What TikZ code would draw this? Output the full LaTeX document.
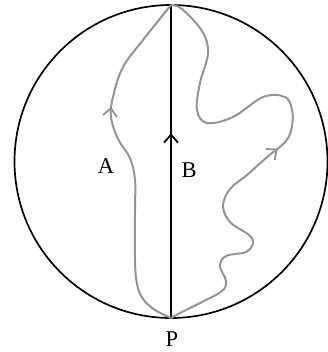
\documentclass[tikz,border=0pt]{standalone}
\usepackage{fontspec}
\setmainfont{Liberation Serif}
\usetikzlibrary{arrows.meta,decorations.markings}
\tikzset{
  rim/.style={draw=black,line width=1.7pt},
  chord/.style={draw=black,line width=1.7pt},
  wiggle/.style={draw=black!42,line width=2pt},
  lbl/.style={font=\fontsize{22.5}{22.5}\selectfont,inner sep=0pt},
  midarrow/.style args={#1 with #2}{postaction={decorate,decoration={markings,
      mark=at position #1 with {\arrow[#2]{Straight Barb[length=8pt,width=14pt,line width=1.8pt]}}}}}
}
\begin{document}
\begin{tikzpicture}[x=1pt,y=-1pt]
\useasboundingbox (0,0) rectangle (327,352);
\coordinate (O) at (171,161.5);
\coordinate (top) at (171,5);
\coordinate (bot) at (171,318);
\draw[rim] (O) circle [radius=156.5pt];
\draw[chord,midarrow={0.59 with black}] (bot) -- (top);
% curve A
\draw[wiggle,midarrow={0.66 with black!42}] plot[smooth,tension=0.6] coordinates {
  (bot) (155,310) (143,299) (137,284) (135,260) (135,209) (135,180) (130,158)
  (118,139) (111,117) (113,97) (123,67) (143,40) (top)};
% curve B
\draw[wiggle,midarrow={0.478 with black!42}] plot[smooth,tension=0.6] coordinates {
  (bot) (182,312) (202,302) (222,291) (226,281) (220,266) (226,256) (246,252)
  (253,243) (249,235) (230,222) (223,206) (230,189) (247,175) (266,158)
  (286,141) (292,126) (292,110) (285,97) (263,97) (233,117) (207,123) (197,110)
  (200,83) (208,53) (202,31) (182,9) (top)};
\node[lbl] (A) at (106,166) {A};
\node[lbl] (B) at (189,170.5) {B};
\node[lbl] (P) at (172,339) {P};
\end{tikzpicture}
\end{document}
